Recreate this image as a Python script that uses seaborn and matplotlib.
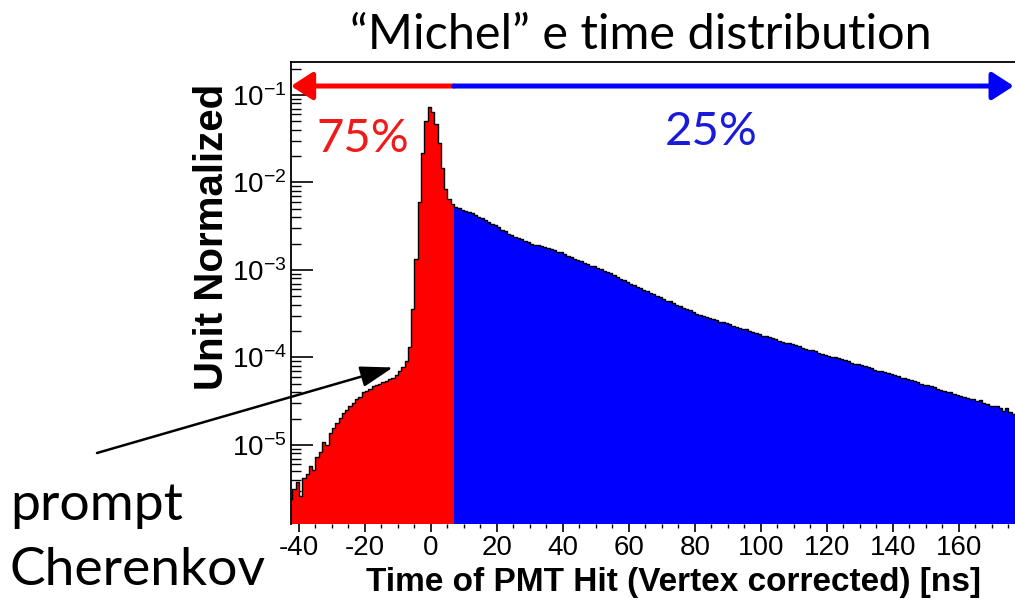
import numpy as np
import matplotlib
matplotlib.use("Agg")
import matplotlib.pyplot as plt
import matplotlib.transforms as mtransforms
from matplotlib.ticker import MultipleLocator, LogLocator, NullFormatter, FixedLocator
import seaborn as sns

# ---- data: unit-normalised PMT hit time distribution (log10 of bin content) ----
# prompt region, 1 ns bins starting at -43 ns
prompt_start_ns = -43.0
prompt_width_ns = 1.0
prompt_log10 = [
    -5.62, -5.50, -5.42, -5.58, -5.38, -5.33, -5.24, -5.29, -5.14, -5.08,
    -4.97, -5.00, -4.86, -4.81, -4.75, -4.69, -4.64, -4.60, -4.55, -4.52,
    -4.47, -4.45, -4.40, -4.38, -4.36, -4.33, -4.32, -4.30, -4.28, -4.27,
    -4.25, -4.23, -4.20, -4.16, -4.11, -4.04, -3.88, -3.45, -2.88, -2.22,
    -1.66, -1.30, -1.14, -1.19, -1.33, -1.55, -1.84, -2.08, -2.19, -2.25,
]
# delayed region, 1 ns bins starting at 7 ns
delayed_start_ns = 7.0
delayed_width_ns = 1.0
delayed_log10 = [
    -2.28, -2.29, -2.31, -2.33, -2.34, -2.35, -2.37, -2.39, -2.41, -2.43,
    -2.45, -2.47, -2.49, -2.51, -2.54, -2.56, -2.59, -2.60, -2.62, -2.64,
    -2.65, -2.67, -2.68, -2.70, -2.71, -2.72, -2.73, -2.74, -2.75, -2.76,
    -2.77, -2.79, -2.80, -2.82, -2.84, -2.85, -2.87, -2.89, -2.90, -2.92,
    -2.93, -2.95, -2.96, -2.98, -2.99, -3.01, -3.02, -3.04, -3.06, -3.08,
    -3.10, -3.12, -3.14, -3.16, -3.17, -3.19, -3.21, -3.23, -3.24, -3.26,
    -3.28, -3.30, -3.31, -3.33, -3.35, -3.36, -3.38, -3.40, -3.41, -3.43,
    -3.45, -3.46, -3.48, -3.50, -3.51, -3.53, -3.54, -3.55, -3.56, -3.57,
    -3.59, -3.60, -3.61, -3.62, -3.64, -3.65, -3.66, -3.67, -3.68, -3.70,
    -3.71, -3.72, -3.73, -3.75, -3.76, -3.77, -3.78, -3.79, -3.81, -3.82,
    -3.83, -3.84, -3.85, -3.86, -3.87, -3.89, -3.90, -3.91, -3.92, -3.93,
    -3.95, -3.96, -3.97, -3.98, -3.99, -4.00, -4.01, -4.02, -4.03, -4.04,
    -4.06, -4.07, -4.08, -4.09, -4.10, -4.11, -4.12, -4.14, -4.15, -4.16,
    -4.17, -4.18, -4.19, -4.20, -4.21, -4.23, -4.24, -4.25, -4.26, -4.27,
    -4.28, -4.30, -4.31, -4.32, -4.33, -4.34, -4.36, -4.37, -4.38, -4.39,
    -4.40, -4.42, -4.43, -4.44, -4.45, -4.46, -4.47, -4.48, -4.50, -4.49,
    -4.52, -4.53, -4.56, -4.56, -4.55, -4.58, -4.61, -4.58, -4.62, -4.65,
    -4.64,
]
region_labels = ["75%", "25%"]
x_major_ticks = [-40, -20, 0, 20, 40, 60, 80, 100, 120, 140, 160]


def bins_for(start, width, n):
    edges = start + width * np.arange(n + 1)
    centers = 0.5 * (edges[:-1] + edges[1:])
    return edges, centers


p_edges, p_centers = bins_for(prompt_start_ns, prompt_width_ns, len(prompt_log10))
d_edges, d_centers = bins_for(delayed_start_ns, delayed_width_ns, len(delayed_log10))
p_vals = 10.0 ** np.asarray(prompt_log10)
d_vals = 10.0 ** np.asarray(delayed_log10)
all_edges = np.concatenate([p_edges, d_edges[1:]])
all_centers = np.concatenate([p_centers, d_centers])
all_vals = np.concatenate([p_vals, d_vals])

# ---- style ----
sns.set_theme(style="ticks")
plt.rcParams["font.family"] = ["Liberation Sans", "DejaVu Sans"]
plt.rcParams["mathtext.default"] = "regular"
plt.rcParams["axes.unicode_minus"] = False

RED = "#ff0000"
BLUE = "#0000ff"

W, H = 1015, 604
fig = plt.figure(figsize=(W / 100, H / 100), dpi=100)
fig.patch.set_facecolor("white")
ax = fig.add_axes([291 / W, 1 - 524 / H, 724 / W, 462 / H])
ax.set_facecolor("white")

# filled regions
sns.histplot(x=p_centers, weights=p_vals, bins=list(p_edges), element="step",
             fill=True, color=RED, alpha=1, linewidth=0, ax=ax)
sns.histplot(x=d_centers, weights=d_vals, bins=list(d_edges), element="step",
             fill=True, color=BLUE, alpha=1, linewidth=0, ax=ax)
# outline of the whole distribution
sns.histplot(x=all_centers, weights=all_vals, bins=list(all_edges), element="step",
             fill=False, color="black", linewidth=1.0, ax=ax)

ax.set_yscale("log")
ax.set_xlim(-42.4, 177.0)
ax.set_ylim(10 ** -5.903, 10 ** -0.623)
ax.set_axisbelow(True)

ax.xaxis.set_major_locator(FixedLocator(x_major_ticks))
ax.xaxis.set_minor_locator(MultipleLocator(5))
ax.yaxis.set_major_locator(LogLocator(base=10, numticks=20))
ax.yaxis.set_minor_locator(LogLocator(base=10, subs=np.arange(2, 10) * 1.0, numticks=50))
ax.yaxis.set_minor_formatter(NullFormatter())

ax.tick_params(axis="x", which="major", direction="out", length=6, width=1.2,
               labelsize=20, pad=2, colors="black", bottom=True)
ax.tick_params(axis="x", which="minor", direction="out", length=3, width=1.0,
               colors="black", bottom=True)
ax.tick_params(axis="y", which="major", direction="in", length=16, width=1.2,
               labelsize=20, pad=3, colors="black", left=True)
ax.tick_params(axis="y", which="minor", direction="in", length=7, width=1.0,
               colors="black", left=True)

for side in ("bottom", "right"):
    ax.spines[side].set_visible(False)
for side in ("top", "left"):
    ax.spines[side].set_color("black")
    ax.spines[side].set_linewidth(1.3)

ax.set_xlabel("Time of PMT Hit (Vertex corrected) [ns]", fontsize=24,
              fontweight="bold", color="black")
ax.xaxis.set_label_coords(0.528, -0.093)
ax.set_ylabel("Unit Normalized", fontsize=29, fontweight="bold", color="black")
ax.yaxis.set_label_coords(-0.083, 0.621)

# region arrows across the top
split_ns = delayed_start_ns
arrow_y = 0.948
blend = mtransforms.blended_transform_factory(ax.transData, ax.transAxes)
head = "-|>,head_length=0.65,head_width=0.42"
ax.annotate("", xy=(ax.get_xlim()[0], arrow_y), xycoords=blend,
            xytext=(split_ns, arrow_y), textcoords=blend,
            arrowprops=dict(arrowstyle=head, mutation_scale=20, color=RED,
                            lw=3.6, shrinkA=0, shrinkB=0),
            annotation_clip=False)
ax.annotate("", xy=(176.6, arrow_y), xycoords=blend,
            xytext=(split_ns, arrow_y), textcoords=blend,
            arrowprops=dict(arrowstyle=head, mutation_scale=20, color=BLUE,
                            lw=3.6, shrinkA=0, shrinkB=0),
            annotation_clip=False)

ax.text(0.0994, 0.805, region_labels[0], transform=ax.transAxes, color="#f01a1a",
        fontsize=34, family="Lato", ha="center", va="baseline")
ax.text(0.581, 0.820, region_labels[1], transform=ax.transAxes, color="#1a1ad9",
        fontsize=34, family="Lato", ha="center", va="baseline")

# prompt Cherenkov pointer
ax.annotate("", xy=(-11.5, 10 ** -4.114), xycoords="data",
            xytext=(97 / W, 1 - 453 / H), textcoords="figure fraction",
            arrowprops=dict(arrowstyle="-|>,head_length=1.0,head_width=0.32",
                            mutation_scale=20, color="black", lw=1.8,
                            shrinkA=0, shrinkB=0),
            annotation_clip=False)
fig.text(10 / W, 1 - 520 / H, "prompt", fontsize=38.5, family="Lato",
         ha="left", va="baseline", color="black")
fig.text(10 / W, 1 - 585 / H, "Cherenkov", fontsize=38.5, family="Lato",
         ha="left", va="baseline", color="black")

fig.text(641 / W, 1 - 35 / H, "\u201cMichel\u201d e time distribution", fontsize=35,
         family="Lato", ha="center", va="center", color="black")

fig.savefig("out.png", dpi=100)
